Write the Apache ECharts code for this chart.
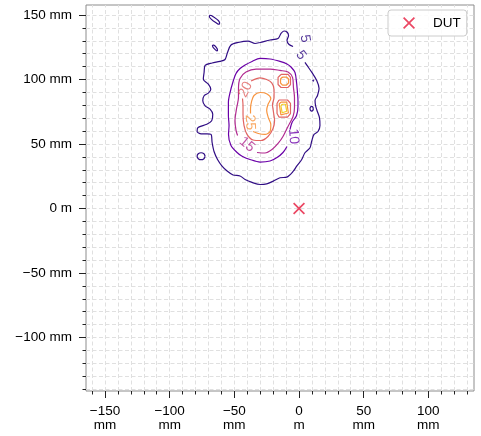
<!DOCTYPE html>
<html><head><meta charset="utf-8">
<script src="https://cdn.jsdelivr.net/npm/echarts@6/dist/echarts.min.js"></script>
<style>html,body{margin:0;padding:0;background:#fff}#c{width:481px;height:436px}</style>
</head><body><div id="c"></div>
<script>
// ---- axis extents & ticks (mm) ----
const X_MIN = -164.7, X_MAX = 135.3, Y_MIN = -141.5, Y_MAX = 157.75;
const xMajorTicks = [-150, -100, -50, 0, 50, 100];
const yMajorTicks = [-100, -50, 0, 50, 100, 150];
const xMinorTicks = [-160,-140,-130,-120,-110,-90,-80,-70,-60,-40,-30,-20,-10,10,20,30,40,60,70,80,90,110,120,130];
const yMinorTicks = [-140,-130,-120,-110,-90,-80,-70,-60,-40,-30,-20,-10,10,20,30,40,60,70,80,90,110,120,130,140];
const xGridLines = [-160,-150,-140,-130,-120,-110,-100,-90,-80,-70,-60,-50,-40,-30,-20,-10,0,10,20,30,40,50,60,70,80,90,100,110,120,130];
const yGridLines = [-140,-130,-120,-110,-100,-90,-80,-70,-60,-50,-40,-30,-20,-10,0,10,20,30,40,50,60,70,80,90,100,110,120,130,140,150];

// ---- contour levels ----
const contourLevels = [5, 10, 15, 20, 25, 30];
const levelColors = ['#300d84', '#6a00a8', '#b12a90', '#e16462', '#f89540', '#f2cf2a'];

// ---- contour paths [x mm, y mm] ----
const level5Main = [[4.6,113.2],[6.2,110.9],[9.8,105.7],[13.7,99.2],[15.5,93.0],[14.3,87.6],[12.4,83.7],[12.8,79.8],[13.9,76.0],[15.8,70.5],[16.2,64.3],[14.7,59.7],[11.6,57.4],[9.8,52.2],[8.5,47.1],[4.6,43.2],[2.1,38.0],[-1.8,32.8],[-4.4,28.9],[-9.5,24.3],[-14.7,23.8],[-19.9,21.2],[-25.0,19.1],[-30.1,18.6],[-36.3,20.2],[-41.7,22.5],[-45.6,25.2],[-51.0,26.0],[-55.6,29.1],[-59.5,32.9],[-63.0,38.0],[-65.7,44.2],[-67.2,51.2],[-68.0,57.4],[-71.1,57.8],[-75.7,57.8],[-78.8,59.7],[-78.1,62.8],[-71.3,65.3],[-67.5,68.0],[-66.7,73.1],[-68.8,77.0],[-72.6,79.6],[-74.4,83.5],[-73.4,87.4],[-70.1,89.4],[-68.2,92.5],[-70.1,96.4],[-74.0,100.2],[-73.4,105.4],[-72.6,110.9],[-67.2,112.8],[-61.1,114.0],[-57.2,115.5],[-55.3,120.9],[-52.6,126.7],[-47.1,128.7],[-39.4,129.8],[-34.0,127.9],[-30.1,128.7],[-22.4,130.6],[-16.2,131.8],[-13.9,135.7],[-11.6,137.6],[-9.3,136.8],[-8.1,134.1],[-9.3,130.2],[-7.7,127.1],[-4.6,125.6]];
const level5Islands = [
  [[-69.2,149.8],[-67.8,149.6],[-61.4,143.9],[-61.6,142.9],[-62.8,143.1],[-69.3,148.9],[-69.2,149.8]],
  [[-66.8,126.6],[-66.0,126.6],[-63.0,122.8],[-63.3,122.2],[-64.0,122.4],[-66.9,125.9],[-66.8,126.6]],
  [[-72.6,40.5],[-73.5,42.4],[-75.7,43.2],[-77.9,42.4],[-78.8,40.5],[-77.9,38.6],[-75.7,37.8],[-73.5,38.6],[-72.6,40.5]],
  [[11.1,77.3],[10.7,78.6],[9.8,79.1],[8.9,78.6],[8.5,77.3],[8.9,76.0],[9.8,75.5],[10.7,76.0],[11.1,77.3]],
  [[11.5,99.2],[11.1,99.6],[10.7,99.2],[11.1,98.8],[11.5,99.2]]
];
const level10Main = [[-9.3,48.1],[-12.4,43.4],[-17.0,39.5],[-22.4,36.8],[-30.1,36.0],[-37.9,38.0],[-44.0,40.5],[-47.9,43.4],[-52.6,48.8],[-54.5,57.4],[-54.1,64.3],[-54.6,72.1],[-54.6,82.2],[-53.3,89.9],[-51.2,97.7],[-48.7,104.7],[-45.6,108.5],[-41.7,111.2],[-36.3,114.0],[-30.1,116.3],[-22.4,115.9],[-14.7,114.0],[-9.3,112.0],[-6.2,109.7],[-3.1,105.4],[-1.9,97.7],[-1.2,89.9],[-0.8,83.7],[-0.8,79.1],[-1.9,72.1],[-5.4,66.7],[-7.0,61.2]];
const level15Main = [[-32.5,43.4],[-26.3,43.0],[-20.9,45.7],[-16.2,50.4],[-12.4,55.8],[-8.5,63.6],[-4.6,71.3],[-3.5,78.3],[-3.5,86.0],[-4.3,93.8],[-5.0,101.6],[-8.5,105.8],[-14.7,107.0],[-22.4,108.1],[-33.2,108.1],[-41.0,105.8],[-45.6,100.8],[-46.8,93.0],[-46.8,86.0],[-48.3,77.5],[-49.5,68.2],[-48.7,60.5],[-47.5,56.6]];
const level20Main = [[-37.1,98.8],[-30.1,101.3],[-25.0,100.0],[-21.1,97.4],[-19.3,92.2],[-19.3,86.0],[-20.5,80.6],[-19.7,74.4],[-18.9,68.2],[-20.1,62.0],[-24.0,55.8],[-29.4,52.7],[-35.5,53.1],[-40.2,57.4],[-42.5,64.3],[-43.3,72.9],[-43.3,79.8],[-43.7,85.3]];
const level20Spots = [
  [[-13.9,103.9],[-8.5,103.9],[-6.6,101.6],[-6.6,96.1],[-8.5,93.8],[-13.9,93.8],[-16.2,96.1],[-16.2,101.6],[-13.9,103.9]],
  [[-15.5,84.1],[-8.9,84.1],[-6.6,81.4],[-6.6,73.6],[-8.9,70.9],[-15.5,70.9],[-17.0,73.6],[-17.0,81.4],[-15.5,84.1]]
];
const level25Main = [[-35.5,59.7],[-31.5,58.1],[-26.3,57.4],[-22.4,59.7],[-21.8,65.1],[-23.7,70.3],[-25.0,76.0],[-24.0,80.6],[-21.8,85.3],[-24.7,88.8],[-30.1,89.9],[-34.8,87.6],[-36.7,82.9],[-37.5,77.5],[-37.5,73.6]];
const level25Spots = [
  [[-12.8,101.9],[-9.7,101.9],[-8.1,100.4],[-8.1,97.3],[-9.7,95.7],[-12.8,95.7],[-14.3,97.3],[-14.3,100.4],[-12.8,101.9]],
  [[-14.0,82.4],[-9.5,82.4],[-8.2,81.0],[-8.2,74.0],[-9.5,72.6],[-14.0,72.6],[-15.3,74.0],[-15.3,81.0],[-14.0,82.4]]
];
const level30Spots = [
  [[-13.0,80.8],[-10.5,80.8],[-9.5,79.6],[-9.5,75.4],[-10.5,74.2],[-13.0,74.2],[-14.0,75.4],[-14.0,79.6],[-13.0,80.8]]
];

// ---- inline contour labels ----
const labelLevel = [5, 5, 10, 15, 20, 25];
const labelX = [4.6, 1.5, -4.3, -40.2, -41.3, -37.9];
const labelY = [131.6, 118.8, 55.8, 49.6, 92.2, 66.7];
const labelAngle = [-80, -53, -85, -40, 64, -88];

// ---- device under test ----
const dutName = 'DUT';
const dutPoint = [[0, 0]];

// ---------------------------------------------------------
const FONT = 'Liberation Sans';
const colorOf = lv => levelColors[contourLevels.indexOf(lv)];
const minus = v => (v < 0 ? '\u2212' + Math.abs(v) : String(v));

function contourSeries(points, level, smooth) {
  return {
    type: 'line', data: points, symbol: 'none', showSymbol: false,
    smooth: smooth ? 0.3 : false, silent: true, animation: false, z: 3,
    lineStyle: { color: colorOf(level), width: 1.2 }
  };
}

const series = [];
series.push({
  type: 'line', data: [], silent: true, animation: false, z: 1,
  markLine: {
    z: 1, silent: true, animation: false, symbol: ['none', 'none'], label: { show: false },
    lineStyle: { color: '#e0e0e0', type: [4, 2.5], width: 1 },
    emphasis: { disabled: true },
    data: xGridLines.map(v => ({ xAxis: v })).concat(yGridLines.map(v => ({ yAxis: v })))
  }
});
series.push(contourSeries(level5Main, 5, true));
level5Islands.forEach(p => series.push(contourSeries(p, 5, true)));
series.push(contourSeries(level10Main, 10, true));
series.push(contourSeries(level15Main, 15, true));
series.push(contourSeries(level20Main, 20, true));
level20Spots.forEach(p => series.push(contourSeries(p, 20, false)));
series.push(contourSeries(level25Main, 25, true));
level25Spots.forEach(p => series.push(contourSeries(p, 25, false)));
level30Spots.forEach(p => series.push(contourSeries(p, 30, false)));

series.push({
  type: 'scatter', silent: true, animation: false, z: 4, symbolSize: 1,
  itemStyle: { color: 'rgba(0,0,0,0)' },
  label: { show: true, position: 'inside', formatter: '{b}', fontSize: 14, fontFamily: FONT },
  labelLayout: { hideOverlap: false },
  data: labelLevel.map((lv, i) => ({
    name: String(lv), value: [labelX[i], labelY[i]],
    label: { show: true, rotate: labelAngle[i], color: colorOf(lv) }
  }))
});

const XPATH = 'path://M0,1 L1,0 L5,4 L9,0 L10,1 L6,5 L10,9 L9,10 L5,6 L1,10 L0,9 L4,5 Z';
series.push({
  name: dutName, type: 'scatter', data: dutPoint, symbol: XPATH, symbolSize: 12,
  symbolKeepAspect: true, itemStyle: { color: '#e6193c' }, z: 5, silent: true, animation: false
});

const tickColor = '#222';
const option = {
  animation: false,
  backgroundColor: '#fff',
  grid: { left: 86, right: 7, top: 5, bottom: 45, show: true, borderColor: '#8c8c8c', borderWidth: 1, outerBoundsMode: 'none' },
  legend: {
    data: [dutName], left: 388, top: 10, itemWidth: 38, itemHeight: 12, selectedMode: false,
    padding: [6, 6, 6, 15], borderColor: '#cccccc', borderWidth: 1, borderRadius: 3,
    backgroundColor: 'rgba(255,255,255,0.85)',
    textStyle: { fontSize: 13.5, fontFamily: FONT, color: '#000' }
  },
  xAxis: [
    { type: 'value', min: X_MIN, max: X_MAX, position: 'bottom',
      axisLine: { show: false, onZero: false }, splitLine: { show: false },
      axisTick: { show: true, length: 7, customValues: xMajorTicks, lineStyle: { color: tickColor } },
      axisLabel: { customValues: xMajorTicks, margin: 13, fontSize: 13.5, lineHeight: 14, fontFamily: FONT, color: '#000',
        formatter: v => (v === 0 ? '0\nm' : minus(v) + '\nmm') } },
    { type: 'value', min: X_MIN, max: X_MAX, position: 'bottom', offset: 0,
      axisLine: { show: false, onZero: false }, splitLine: { show: false }, axisLabel: { show: false },
      axisTick: { show: true, length: 3.5, customValues: xMinorTicks, lineStyle: { color: tickColor } } }
  ],
  yAxis: [
    { type: 'value', min: Y_MIN, max: Y_MAX, position: 'left',
      axisLine: { show: false, onZero: false }, splitLine: { show: false },
      axisTick: { show: true, length: 7, customValues: yMajorTicks, lineStyle: { color: tickColor } },
      axisLabel: { customValues: yMajorTicks, margin: 14, fontSize: 13.5, fontFamily: FONT, color: '#000',
        formatter: v => (v === 0 ? '0 m' : minus(v) + ' mm') } },
    { type: 'value', min: Y_MIN, max: Y_MAX, position: 'left', offset: 0,
      axisLine: { show: false, onZero: false }, splitLine: { show: false }, axisLabel: { show: false },
      axisTick: { show: true, length: 3.5, customValues: yMinorTicks, lineStyle: { color: tickColor } } }
  ],
  series: series
};

const chart = echarts.init(document.getElementById('c'), null, { renderer: 'canvas' });
chart.setOption(option);
</script>
</body></html>
